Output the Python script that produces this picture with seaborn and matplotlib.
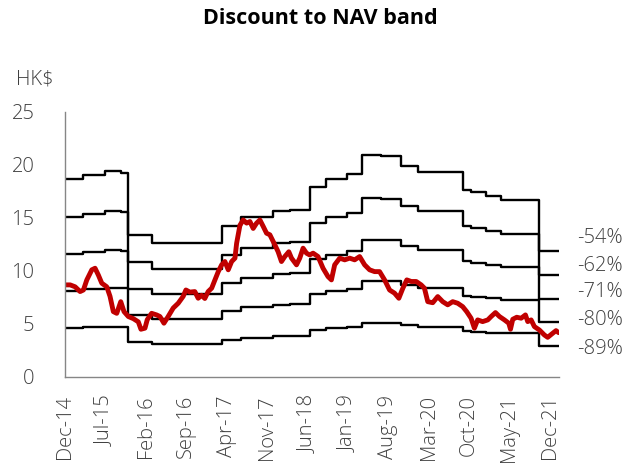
import numpy as np
import pandas as pd
import matplotlib
matplotlib.use("Agg")
import matplotlib.pyplot as plt
import matplotlib.transforms as mtransforms
import seaborn as sns

# ---------------- data ----------------
# NAV per share (HK$) step changes, dates as decimal years
nav_step_years = [2014.917, 2015.172, 2015.486, 2015.717, 2015.829, 2016.171,
                  2017.175, 2017.453, 2017.910, 2018.169, 2018.447, 2018.688,
                  2018.980, 2019.207, 2019.470, 2019.769, 2020.008, 2020.656,
                  2020.777, 2020.993, 2021.209, 2021.761]
nav_values = [40.6, 41.3, 42.1, 41.7, 29.1, 27.4,
              31.0, 32.8, 34.0, 34.3, 38.9, 40.5,
              41.5, 45.4, 45.2, 43.3, 42.0, 38.3,
              37.8, 37.0, 36.3, 25.9]
nav_end_year = 2022.039

discounts = [0.54, 0.628, 0.715, 0.80, 0.887]
discount_labels = ["-54%", "-62%", "-71%", "-80%", "-89%"]

price_years = [2014.917, 2014.989, 2015.061, 2015.133, 2015.181, 2015.230, 2015.302,
               2015.349, 2015.397, 2015.446, 2015.518, 2015.565, 2015.613, 2015.662,
               2015.720, 2015.767, 2015.829, 2015.901, 2015.973, 2016.012, 2016.070,
               2016.103, 2016.166, 2016.238, 2016.286, 2016.344, 2016.405, 2016.478,
               2016.550, 2016.622, 2016.661, 2016.718, 2016.790, 2016.838, 2016.887,
               2016.934, 2016.982, 2017.031, 2017.078, 2017.126, 2017.175, 2017.222,
               2017.270, 2017.319, 2017.367, 2017.391, 2017.439, 2017.486, 2017.535,
               2017.583, 2017.630, 2017.679, 2017.727, 2017.774, 2017.823, 2017.871,
               2017.943, 2017.990, 2018.039, 2018.087, 2018.145, 2018.184, 2018.256,
               2018.303, 2018.351, 2018.400, 2018.447, 2018.495, 2018.567, 2018.639,
               2018.711, 2018.760, 2018.807, 2018.880, 2018.952, 2019.024, 2019.096,
               2019.168, 2019.240, 2019.312, 2019.384, 2019.456, 2019.528, 2019.600,
               2019.672, 2019.734, 2019.792, 2019.849, 2019.913, 2019.985, 2020.057,
               2020.104, 2020.152, 2020.224, 2020.296, 2020.368, 2020.440, 2020.512,
               2020.584, 2020.656, 2020.714, 2020.777, 2020.825, 2020.872, 2020.944,
               2021.016, 2021.065, 2021.127, 2021.185, 2021.257, 2021.319, 2021.344,
               2021.377, 2021.434, 2021.498, 2021.560, 2021.593, 2021.642, 2021.689,
               2021.761, 2021.833, 2021.881, 2021.953, 2022.002, 2022.039]
price_values = [8.68, 8.68, 8.50, 8.05, 8.20, 9.15, 10.10,
                10.25, 9.60, 8.84, 8.50, 7.60, 6.16, 6.00,
                7.10, 6.16, 5.70, 5.50, 5.20, 4.50, 4.60,
                5.40, 6.00, 5.85, 5.70, 5.07, 5.70, 6.50,
                6.95, 7.60, 8.20, 8.00, 8.05, 7.42, 7.70,
                7.40, 8.05, 8.37, 9.15, 9.93, 10.57, 10.88,
                10.10, 10.88, 11.20, 12.60, 14.30, 14.80, 14.50,
                14.65, 14.00, 14.50, 14.80, 14.20, 13.55, 13.40,
                12.45, 11.80, 10.88, 11.35, 11.80, 11.20, 10.57,
                11.20, 12.14, 11.67, 11.50, 11.67, 11.35, 10.25,
                9.46, 9.15, 10.57, 11.20, 11.04, 11.20, 11.04,
                11.35, 10.57, 10.10, 9.93, 9.93, 9.15, 8.20,
                7.90, 7.42, 8.37, 9.15, 9.00, 9.00, 8.68,
                8.37, 7.10, 7.00, 7.58, 7.10, 6.80, 7.10,
                6.95, 6.63, 6.16, 5.54, 4.60, 5.38, 5.22,
                5.38, 5.70, 6.07, 5.70, 5.38, 5.07, 4.50,
                5.44, 5.63, 5.54, 5.85, 5.22, 5.38, 4.75,
                4.43, 3.96, 3.74, 4.12, 4.37, 4.18]

tick_labels = ["Dec-14", "Jul-15", "Feb-16", "Sep-16", "Apr-17", "Nov-17", "Jun-18",
               "Jan-19", "Aug-19", "Mar-20", "Oct-20", "May-21", "Dec-21"]
y_ticks = [0, 5, 10, 15, 20, 25]

title = "Discount to NAV band"
unit_label = "HK$"


def to_dates(years):
    out = []
    for y in years:
        base = int(np.floor(y))
        out.append(pd.Timestamp(base, 1, 1) + pd.Timedelta(days=(y - base) * 365.25))
    return out


# ---------------- style ----------------
sns.set_style("white")
plt.rcParams["font.family"] = ["Open Sans", "DejaVu Sans"]
plt.rcParams["font.weight"] = "light"
FS = 14.5
TXT = "#404040"
AXC = "#868686"

fig = plt.figure(figsize=(6.41, 4.66), dpi=100)
W, H = 641, 466
ax = fig.add_axes([65 / W, 1 - 377 / H, (559 - 65) / W, (377 - 111.7) / H])

band_dates = to_dates(nav_step_years + [nav_end_year])
nav_full = np.array(nav_values + [nav_values[-1]])

for d in discounts:
    df = pd.DataFrame({"date": band_dates, "value": nav_full * (1 - d)})
    sns.lineplot(data=df, x="date", y="value", ax=ax, color="black", linewidth=1.7,
                 drawstyle="steps-post", estimator=None, sort=False)

pdf = pd.DataFrame({"date": to_dates(price_years), "price": price_values})
sns.lineplot(data=pdf, x="date", y="price", ax=ax, color="#C00000", linewidth=3.5,
             estimator=None, sort=False, solid_joinstyle="round", solid_capstyle="round")

ax.set_ylim(0, 25)
ax.set_yticks(y_ticks)
tick_dates = pd.to_datetime(tick_labels, format="%b-%y")
ax.set_xlim(to_dates([2014.917])[0], to_dates([2022.045])[0])
ax.set_xticks(tick_dates)
ax.set_xticklabels(tick_labels, rotation=90, ha="center", va="top", fontweight="light")
ax.set_xlabel("")
ax.set_ylabel("")

for s in ["top", "right"]:
    ax.spines[s].set_visible(False)
for s in ["left", "bottom"]:
    ax.spines[s].set_color(AXC)
    ax.spines[s].set_linewidth(1.0)

ax.tick_params(axis="y", direction="out", length=7, width=1, color=AXC,
               labelsize=FS, labelcolor=TXT, pad=15)
ax.tick_params(axis="x", direction="out", length=6, width=1, color=AXC,
               labelsize=FS, labelcolor=TXT, pad=7)
for t in ax.get_yticklabels():
    t.set_fontweight("light")
ax.grid(False)

# right-hand discount labels
label_y = [13.1, 10.5, 8.0, 5.4, 2.6]
trans = mtransforms.blended_transform_factory(ax.transAxes, ax.transData)
for lab, yv in zip(discount_labels, label_y):
    ax.text(1.036, yv, lab, transform=trans, ha="left", va="center",
            fontsize=FS, color=TXT, clip_on=False, fontweight="light")

fig.text(0.5, 1 - 19 / H, title, ha="center", va="center", fontsize=15.5,
         fontweight="bold", color="black")
fig.text(16 / W, 1 - 80 / H, unit_label, ha="left", va="center", fontsize=FS,
         color=TXT, fontweight="light")

fig.savefig("out.png", dpi=100)
